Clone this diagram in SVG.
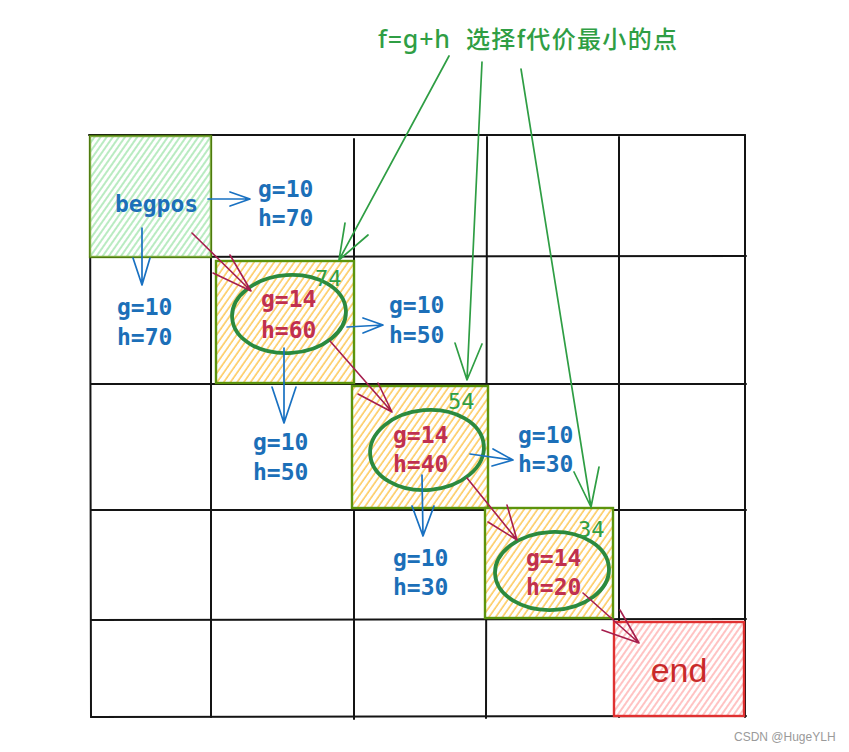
<svg xmlns="http://www.w3.org/2000/svg" width="849" height="752" viewBox="0 0 849 752">
<style>
.grid{stroke:#141414;stroke-width:2;fill:none;stroke-linecap:round}
.mono{font-family:"DejaVu Sans Mono","Liberation Mono",monospace;font-size:23px;font-weight:bold}
.blue{fill:#1c6fb8}
.red{fill:#c0304f}
.num{fill:#2f9e44;font-family:"DejaVu Sans Mono","Liberation Mono",monospace;font-size:22px}
.ell{fill:none;stroke:#2b8a3e;stroke-width:3.8}
.ab{fill:none;stroke:#1971c2;stroke-width:1.7;stroke-linecap:round;stroke-linejoin:round}
.ar{fill:none;stroke:#a61e4d;stroke-width:1.6;stroke-linecap:round;stroke-linejoin:round}
.ag{fill:none;stroke:#2f9e44;stroke-width:1.7;stroke-linecap:round;stroke-linejoin:round}
.cell{stroke:#5c940d;stroke-width:2.4}
.under{fill:#ffffff}
</style>
<defs>
<pattern id="hg" width="5" height="5" patternUnits="userSpaceOnUse" patternTransform="rotate(35)"><line x1="1" y1="0" x2="1" y2="5" stroke="#51cf66" stroke-width="1"/></pattern>
<pattern id="ho" width="5.5" height="5.5" patternUnits="userSpaceOnUse" patternTransform="rotate(35)"><line x1="1" y1="0" x2="1" y2="5.5" stroke="#fcb92c" stroke-width="1.2"/></pattern>
<pattern id="hr" width="5" height="5" patternUnits="userSpaceOnUse" patternTransform="rotate(35)"><line x1="1" y1="0" x2="1" y2="5" stroke="#ff8787" stroke-width="1"/></pattern>
</defs>
<rect width="849" height="752" fill="#ffffff"/>
<g id="grid" class="grid">
<line x1="89" y1="135" x2="745" y2="135"/>
<line x1="90" y1="257" x2="746" y2="256"/>
<line x1="91" y1="384" x2="746" y2="384"/>
<line x1="91" y1="510" x2="746" y2="510"/>
<line x1="91" y1="620" x2="746" y2="619"/>
<line x1="91" y1="717" x2="746" y2="716"/>
<line x1="90" y1="135" x2="91" y2="717"/>
<line x1="211" y1="136" x2="211" y2="717"/>
<line x1="354" y1="139" x2="354" y2="719"/>
<line x1="487" y1="137" x2="486" y2="718"/>
<line x1="619" y1="137" x2="619" y2="717"/>
<line x1="745" y1="135" x2="745" y2="717"/>
</g>
<g id="begpos">
<rect x="90" y="136" width="121" height="121" class="under"/>
<rect x="90" y="136" width="121" height="121" fill="url(#hg)" opacity="0.8" class="cell"/>
<text x="115" y="212" class="mono blue" font-size="22">begpos</text>
</g>
<g id="cell-74">
<rect x="216" y="261" width="138" height="122" class="under"/>
<rect x="216" y="261" width="138" height="122" fill="url(#ho)" class="cell"/>
<ellipse cx="289" cy="314" rx="57" ry="39" class="ell" transform="rotate(-4 289 314)"/>
<text x="315" y="286" class="num">74</text>
<text x="261" y="307" class="mono red">g=14</text>
<text x="261" y="338" class="mono red">h=60</text>
</g>
<g id="cell-54">
<rect x="352" y="386" width="136" height="122" class="under"/>
<rect x="352" y="386" width="136" height="122" fill="url(#ho)" class="cell"/>
<ellipse cx="427" cy="450" rx="57" ry="40" class="ell" transform="rotate(-5 427 450)"/>
<text x="448" y="409" class="num">54</text>
<text x="393" y="443" class="mono red">g=14</text>
<text x="393" y="472" class="mono red">h=40</text>
</g>
<g id="cell-34">
<rect x="485" y="508" width="128" height="110" class="under"/>
<rect x="485" y="508" width="128" height="110" fill="url(#ho)" class="cell"/>
<ellipse cx="552" cy="571" rx="57" ry="39" class="ell" transform="rotate(-3 552 571)"/>
<text x="578" y="537" class="num">34</text>
<text x="526" y="566" class="mono red">g=14</text>
<text x="526" y="595" class="mono red">h=20</text>
</g>
<g id="end">
<rect x="614" y="622" width="130" height="94" class="under"/>
<rect x="614" y="622" width="130" height="94" fill="url(#hr)" stroke="#e03131" stroke-width="2.4"/>
<text x="679" y="682" text-anchor="middle" font-family="Liberation Sans, Arial, sans-serif" font-size="34" fill="#c92a2a">end</text>
</g>
<g id="labels">
<text x="258" y="197" class="mono blue">g=10</text><text x="258" y="226" class="mono blue">h=70</text>
<text x="117" y="315" class="mono blue">g=10</text><text x="117" y="345" class="mono blue">h=70</text>
<text x="389" y="313" class="mono blue">g=10</text><text x="389" y="343" class="mono blue">h=50</text>
<text x="253" y="450" class="mono blue">g=10</text><text x="253" y="480" class="mono blue">h=50</text>
<text x="518" y="443" class="mono blue">g=10</text><text x="518" y="472" class="mono blue">h=30</text>
<text x="393" y="566" class="mono blue">g=10</text><text x="393" y="595" class="mono blue">h=30</text>
</g>
<g id="title">
<text x="378" y="48" font-family="Noto Sans, Noto Sans CJK SC, sans-serif" font-size="25" font-weight="500" fill="#2f9e44" textLength="72">f=g+h</text>
<text x="466" y="48" font-family="Noto Sans CJK SC, sans-serif" font-size="24" font-weight="500" fill="#2f9e44" textLength="211">选择f代价最小的点</text>
</g>
<g id="connectors">
<path class="ag" d="M449 56 L339 260 M345 223 L339 260 L368 235"/>
<path class="ag" d="M482 62 L467 380 M455 343 L467 380 L482 344"/>
<path class="ag" d="M521 69 L591 507 M574 472 L591 507 L599 467"/>
<path class="ab" d="M208 199 L250 199 M230 192 L250 199 L230 206"/>
<path class="ab" d="M142 228 L142 285 M133 258 L142 285 L150 258"/>
<path class="ab" d="M347 327 L383 325 M363 318 L383 325 L363 333"/>
<path class="ab" d="M284 348 L284 423 M272 387 L284 423 L296 387"/>
<path class="ab" d="M470 454 L513 460 M493 449 L513 460 L492 466"/>
<path class="ab" d="M422 475 L423 536 M412 506 L423 536 L434 506"/>
<path class="ar" d="M192 233 L251 291 M230 255 L251 291 L213 273"/>
<path class="ar" d="M330 341 L392 412 M378 383 L392 412 L358 394"/>
<path class="ar" d="M467 478 L517 540 M507 505 L517 540 L488 522"/>
<path class="ar" d="M583 593 L639 643 M620 610 L639 643 L602 630"/>
</g>
<text x="734" y="741" font-family="Liberation Sans, Arial, sans-serif" font-size="12" fill="#9a9a9a">CSDN @HugeYLH</text>
</svg>
